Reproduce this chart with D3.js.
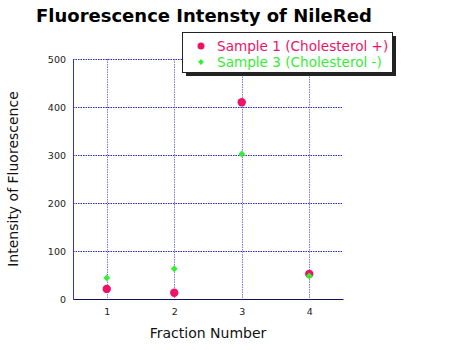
<!DOCTYPE html>
<html><head><meta charset="utf-8">
<script src="https://cdn.jsdelivr.net/npm/d3@7"></script>
<style>body{margin:0;background:#fff}svg{display:block}</style>
</head><body>
<script>
const fractions = [1, 2, 3, 4];
const sample1 = [21, 13, 410, 52];
const sample3 = [44, 63, 302, 48];
const yTicks = [0, 100, 200, 300, 400, 500];
const seriesNames = ["Sample 1 (Cholesterol +)", "Sample 3 (Cholesterol -)"];
const title = "Fluorescence Intensty of NileRed";

const W = 450, H = 350;
const m = {left: 73, right: 107, top: 59, bottom: 51};
const svg = d3.select("body").append("svg").attr("width", W).attr("height", H);
const x = d3.scaleLinear().domain([0.5, 4.5]).range([m.left, W - m.right]);
const y = d3.scaleLinear().domain([0, 500]).range([H - m.bottom, m.top]);
const font = "DejaVu Sans, Verdana, sans-serif";

// grid
svg.append("g").selectAll("line").data(yTicks.filter(d => d > 0)).join("line")
  .attr("x1", m.left).attr("x2", W - m.right)
  .attr("y1", d => Math.round(y(d)) + 0.5).attr("y2", d => Math.round(y(d)) + 0.5)
  .attr("stroke", "#2a2ab8").attr("stroke-width", 1).attr("stroke-dasharray", "1.5,1");
svg.append("g").selectAll("line").data(fractions).join("line")
  .attr("x1", d => Math.round(x(d)) + 0.5).attr("x2", d => Math.round(x(d)) + 0.5)
  .attr("y1", m.top).attr("y2", H - m.bottom)
  .attr("stroke", "#7a7ad8").attr("stroke-width", 1).attr("stroke-dasharray", "1.5,1");

// axes
const yAxis = svg.append("g").attr("transform", `translate(${m.left},0)`)
  .call(d3.axisLeft(y).tickValues(yTicks).tickSize(0).tickPadding(7));
yAxis.select(".domain").attr("stroke", "#3333bb");
yAxis.selectAll("text").attr("font-family", font).attr("font-size", 9.5).attr("fill", "#222");
const xAxis = svg.append("g").attr("transform", `translate(0,${H - m.bottom})`)
  .call(d3.axisBottom(x).tickValues(fractions).tickFormat(d3.format("d")).tickSize(0).tickPadding(9));
xAxis.select(".domain").attr("stroke", "#111166");
xAxis.selectAll("text").attr("font-family", font).attr("font-size", 9.5).attr("fill", "#222");

// points
svg.append("g").selectAll("circle").data(fractions).join("circle")
  .attr("cx", (d) => x(d)).attr("cy", (d, i) => y(sample1[i])).attr("r", 4.2)
  .attr("fill", "#ee1166");
svg.append("g").selectAll("path").data(fractions).join("path")
  .attr("transform", (d, i) => `translate(${x(d)},${y(sample3[i])})`)
  .attr("d", d3.symbol(d3.symbolDiamond2, 30)).attr("fill", "#33ee33");

// title
svg.append("text").attr("x", 36).attr("y", 22).text(title)
  .attr("font-family", font).attr("font-weight", "bold").attr("font-size", 18).attr("fill", "#000");

// axis titles
svg.append("text").attr("x", (m.left + W - m.right) / 2).attr("y", 338).attr("text-anchor", "middle")
  .text("Fraction Number").attr("font-family", font).attr("font-size", 14).attr("fill", "#111");
svg.append("text").attr("transform", `translate(18,${(m.top + H - m.bottom) / 2}) rotate(-90)`)
  .attr("text-anchor", "middle").text("Intensity of Fluorescence")
  .attr("font-family", font).attr("font-size", 14).attr("fill", "#111");

// legend
const lg = svg.append("g");
lg.append("rect").attr("x", 186).attr("y", 36).attr("width", 210).attr("height", 40).attr("fill", "#222");
lg.append("rect").attr("x", 182.5).attr("y", 32.5).attr("width", 210).attr("height", 40)
  .attr("fill", "#fff").attr("stroke", "#222").attr("stroke-width", 1);
lg.append("circle").attr("cx", 201).attr("cy", 46).attr("r", 3.5).attr("fill", "#ee1166");
lg.append("path").attr("transform", "translate(201,62)").attr("d", d3.symbol(d3.symbolDiamond2, 22)).attr("fill", "#33ee33");
lg.append("text").attr("x", 217).attr("y", 51).text(seriesNames[0])
  .attr("font-family", font).attr("font-size", 13.6).attr("fill", "#ee1166");
lg.append("text").attr("x", 217).attr("y", 67).text(seriesNames[1])
  .attr("font-family", font).attr("font-size", 13.6).attr("fill", "#33ee33");
</script>
</body></html>
